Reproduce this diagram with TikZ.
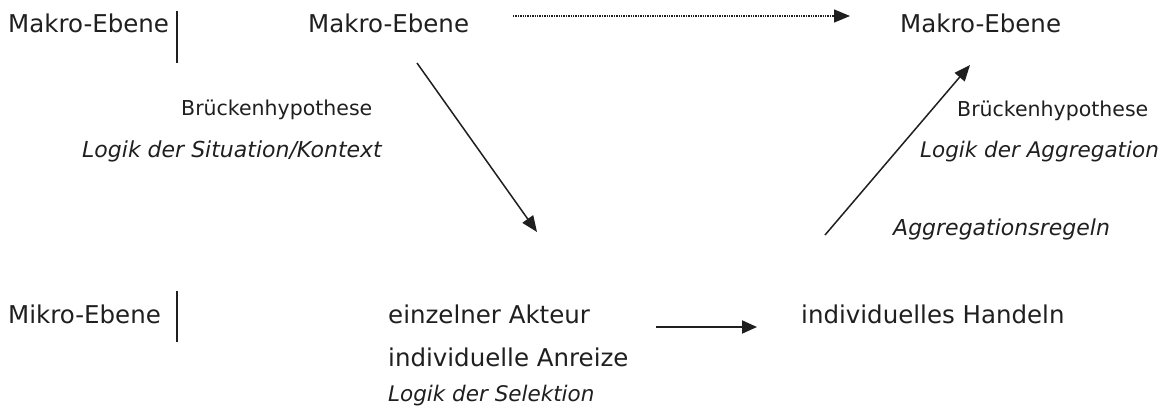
\documentclass[tikz,border=0pt]{standalone}
\usepackage{fontspec}
\setmainfont{DejaVu Sans}
\usetikzlibrary{arrows.meta, positioning}

\begin{document}
\begin{tikzpicture}[
  x=1pt, y=-1pt,
  lvl/.style={anchor=base west, inner sep=0pt, text=black!88, font=\fontsize{24.5}{28}\selectfont},
  bridge/.style={anchor=base west, inner sep=0pt, text=black!88, font=\fontsize{20.5}{24}\selectfont},
  logic/.style={anchor=base west, inner sep=0pt, text=black!88, font=\fontsize{21.5}{25}\selectfont\itshape},
  flow/.style={line width=1.5pt, black!88, -{Triangle[length=16pt, width=13pt]}},
  sep/.style={line width=1.2pt, black!88}
]
  \useasboundingbox (0,0) rectangle (1164,408);

  % Makro row
  \node[lvl] (makroL) at (8,32) {Makro-Ebene};
  \node[lvl] (makroA) at (308,32) {Makro-Ebene};
  \node[lvl] (makroB) at (900,32) {Makro-Ebene};
  \coordinate (barMa) at (177,11);
  \coordinate (barMb) at (177,63);
  \draw[sep] (barMa) -- (barMb);

  % Mikro row
  \node[lvl] (mikroL) at (8,323) {Mikro-Ebene};
  \node[lvl] (akteur) at (388,323) {einzelner Akteur};
  \node[lvl] (anreize) at (388,366) {individuelle Anreize};
  \node[logic] (selektion) at (388,401) {Logik der Selektion};
  \node[lvl] (handeln) at (801,323) {individuelles Handeln};
  \coordinate (barUa) at (177,291);
  \coordinate (barUb) at (177,342);
  \draw[sep] (barUa) -- (barUb);

  % bridge labels
  \node[bridge] (brueckeL) at (181,115) {Brückenhypothese};
  \node[logic, font=\fontsize{22}{25}\selectfont\itshape] (situation) at (82,157) {Logik der Situation/Kontext};
  \node[bridge] (brueckeR) at (957,116) {Brückenhypothese};
  \node[logic] (aggregation) at (920,157) {Logik der Aggregation};
  \node[logic, font=\fontsize{22}{25}\selectfont\itshape] (regeln) at (893,235) {Aggregationsregeln};

  % arrow end points
  \coordinate (topS) at (513,16);
  \coordinate (topE) at (850,16);
  \coordinate (downS) at (417,63);
  \coordinate (downE) at (537,232);
  \coordinate (actS) at (656,327);
  \coordinate (actE) at (757,327);
  \coordinate (upS) at (825,235);
  \coordinate (upE) at (970,65);

  \draw[flow, line width=1.3pt, dash pattern=on 1.4pt off 1pt] (topS) -- (topE);
  \draw[flow] (downS) -- (downE);
  \draw[flow, line width=2pt, -{Triangle[length=15pt, width=13pt]}] (actS) -- (actE);
  \draw[flow] (upS) -- (upE);
\end{tikzpicture}
\end{document}
